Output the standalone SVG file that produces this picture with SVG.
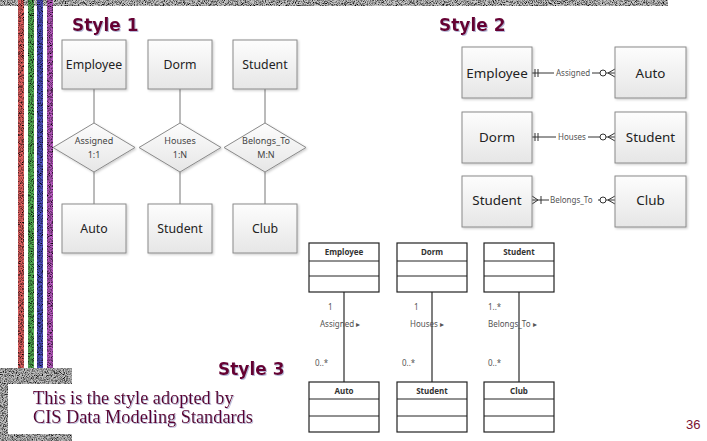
<svg xmlns="http://www.w3.org/2000/svg" width="707" height="441" viewBox="0 0 707 441">
<defs>
  <linearGradient id="boxfill" x1="0" y1="0" x2="0" y2="1">
    <stop offset="0" stop-color="#fdfdfd"/>
    <stop offset="1" stop-color="#e6e6e6"/>
  </linearGradient>
  <filter id="grain" x="0" y="0" width="100%" height="100%" color-interpolation-filters="sRGB">
    <feTurbulence type="fractalNoise" baseFrequency="1.1" numOctaves="2" seed="4" result="n"/>
    <feColorMatrix in="n" type="matrix" values="0.33 0.33 0.33 0 0  0.33 0.33 0.33 0 0  0.33 0.33 0.33 0 0  0 0 0 0 1" result="g"/>
    <feComponentTransfer in="g" result="c">
      <feFuncR type="linear" slope="4" intercept="-1.2"/>
      <feFuncG type="linear" slope="4" intercept="-1.2"/>
      <feFuncB type="linear" slope="4" intercept="-1.2"/>
    </feComponentTransfer>
    <feBlend in="c" in2="SourceGraphic" mode="multiply" result="m"/>
    <feComposite in="m" in2="SourceGraphic" operator="in"/>
  </filter>
  <filter id="shadow" x="-10%" y="-10%" width="130%" height="130%">
    <feDropShadow dx="1.2" dy="1.2" stdDeviation="0.8" flood-color="#000" flood-opacity="0.2"/>
  </filter>
  <filter id="tshadow" x="-5%" y="-20%" width="110%" height="150%">
    <feDropShadow dx="1" dy="1" stdDeviation="0.4" flood-color="#8a8ac0" flood-opacity="0.6"/>
  </filter>
</defs>
<style>
  .ent { fill: url(#boxfill); stroke: #8a8a8a; stroke-width: 1; filter: url(#shadow); }
  .et1 { font-family: "Noto Sans", "Open Sans", sans-serif; font-size: 12.3px; fill: #222; text-anchor: middle; }
  .et2 { font-family: "Noto Sans", "Open Sans", sans-serif; font-size: 13.4px; fill: #222; text-anchor: middle; }
  .dt { font-family: "Noto Sans", "Open Sans", sans-serif; font-size: 9px; fill: #444; text-anchor: middle; }
  .lbl2 { font-family: "Noto Sans", "Open Sans", sans-serif; font-size: 8px; fill: #555; }
  .conn { stroke: #777; stroke-width: 1; fill: none; }
  .conn2 { stroke: #333; stroke-width: 1; fill: none; }
  .cls { fill: #fff; stroke: #222; stroke-width: 1.2; }
  .div { stroke: #222; stroke-width: 1; }
  .ct { font-family: "Noto Sans", "Open Sans", sans-serif; font-size: 8px; font-weight: bold; fill: #333; text-anchor: middle; }
  .ul { font-family: "Noto Sans", "Open Sans", sans-serif; font-size: 8px; fill: #555; }
  .uline { stroke: #555; stroke-width: 1.5; }
  .head { font-family: "DejaVu Sans", Verdana, sans-serif; font-size: 17px; font-weight: bold; fill: #660033; filter: url(#tshadow); }
  .note { font-family: "Liberation Serif", "Times New Roman", serif; font-size: 18.3px; fill: #5a0030; filter: url(#tshadow); }
</style>

<rect width="707" height="441" fill="#ffffff"/>

<!-- decorative frame -->
<g id="decor">
  <rect x="0" y="0" width="668" height="6" fill="#c8c8c8" filter="url(#grain)"/>
  <rect x="18" y="0" width="6" height="370" fill="#e06060" filter="url(#grain)"/>
  <rect x="28" y="0" width="6" height="370" fill="#55b055" filter="url(#grain)"/>
  <rect x="37" y="0" width="6" height="370" fill="#5050c0" filter="url(#grain)"/>
  <rect x="47" y="0" width="6" height="370" fill="#b858c0" filter="url(#grain)"/>
  <polygon points="0,368 72,368 72,384 8,384 8,434 72,434 72,441 0,441" fill="#c0c0c0" filter="url(#grain)"/>
</g>

<!-- headings -->
<text class="head" x="72" y="31">Style 1</text>
<text class="head" x="439" y="31">Style 2</text>
<text class="head" x="218" y="375">Style 3</text>

<text class="note" x="33" y="404">This is the style adopted by</text>
<text class="note" x="33" y="423">CIS Data Modeling Standards</text>
<text x="686" y="429" font-family="Liberation Sans, Arial, sans-serif" font-size="13" fill="#7a1030">36</text>

<!-- connectors -->
<g id="connectors">
  <!-- style 1 -->
  <line class="conn" x1="94" y1="89" x2="94" y2="123"/>
  <line class="conn" x1="94" y1="172" x2="94" y2="204"/>
  <line class="conn" x1="180" y1="89" x2="180" y2="123"/>
  <line class="conn" x1="180" y1="172" x2="180" y2="204"/>
  <line class="conn" x1="265" y1="89" x2="265" y2="123"/>
  <line class="conn" x1="265" y1="172" x2="265" y2="204"/>

  <!-- style 2 row 1 -->
  <path class="conn2" d="M532,73 H554 M592,73 H600 M606,73 H615 M535,69 V77 M538,69 V77 M608,73 L615,69 M608,73 L615,77"/>
  <circle cx="603" cy="73" r="3" fill="#fff" stroke="#333" stroke-width="1"/>
  <text class="lbl2" x="556" y="76">Assigned</text>
  <!-- style 2 row 2 -->
  <path class="conn2" d="M532,137 H556 M588,137 H600 M606,137 H615 M535,133 V141 M538,133 V141 M608,137 L615,133 M608,137 L615,141"/>
  <circle cx="603" cy="137" r="3" fill="#fff" stroke="#333" stroke-width="1"/>
  <text class="lbl2" x="558" y="140">Houses</text>
  <!-- style 2 row 3 -->
  <path class="conn2" d="M532,200 H549 M598,200 H600 M606,200 H615 M532,196 L538,200 L532,204 M541,196 V204 M608,200 L615,196 M608,200 L615,204"/>
  <circle cx="603" cy="200" r="3" fill="#fff" stroke="#333" stroke-width="1"/>
  <text class="lbl2" x="550" y="203">Belongs_To</text>

  <!-- style 3 -->
  <line class="uline" x1="344" y1="292" x2="344" y2="382"/>
  <line class="uline" x1="432" y1="292" x2="432" y2="382"/>
  <line class="uline" x1="519" y1="292" x2="519" y2="382"/>
  <text class="ul" x="328" y="310">1</text>
  <text class="ul" x="320" y="327">Assigned ▸</text>
  <text class="ul" x="315" y="366">0..*</text>
  <text class="ul" x="414" y="310">1</text>
  <text class="ul" x="410" y="327">Houses ▸</text>
  <text class="ul" x="402" y="366">0..*</text>
  <text class="ul" x="488" y="310">1..*</text>
  <text class="ul" x="488" y="327">Belongs_To ▸</text>
  <text class="ul" x="488" y="366">0..*</text>
</g>

<!-- Style 1 nodes -->
<g id="s1-employee"><rect class="ent" x="62" y="40" width="64" height="49"/><text class="et1" x="94" y="69">Employee</text></g>
<g id="s1-dorm"><rect class="ent" x="148" y="40" width="64" height="49"/><text class="et1" x="180" y="69">Dorm</text></g>
<g id="s1-student"><rect class="ent" x="233" y="40" width="64" height="49"/><text class="et1" x="265" y="69">Student</text></g>
<g id="s1-assigned"><polygon class="ent" points="94,123 135,147.5 94,172 53,147.5"/><text class="dt" x="94" y="144">Assigned</text><text class="dt" x="94" y="158">1:1</text></g>
<g id="s1-houses"><polygon class="ent" points="180,123 221,147.5 180,172 139,147.5"/><text class="dt" x="180" y="144">Houses</text><text class="dt" x="180" y="158">1:N</text></g>
<g id="s1-belongs"><polygon class="ent" points="265,123 306,147.5 265,172 224,147.5"/><text class="dt" x="266" y="144">Belongs_To</text><text class="dt" x="266" y="158">M:N</text></g>
<g id="s1-auto"><rect class="ent" x="62" y="204" width="64" height="49"/><text class="et1" x="94" y="233">Auto</text></g>
<g id="s1-student2"><rect class="ent" x="148" y="204" width="64" height="49"/><text class="et1" x="180" y="233">Student</text></g>
<g id="s1-club"><rect class="ent" x="233" y="204" width="64" height="49"/><text class="et1" x="265" y="233">Club</text></g>

<!-- Style 2 nodes -->
<g id="s2-employee"><rect class="ent" x="462" y="47" width="70" height="51"/><text class="et2" x="497" y="78">Employee</text></g>
<g id="s2-auto"><rect class="ent" x="615" y="47" width="71" height="51"/><text class="et2" x="650.5" y="78">Auto</text></g>
<g id="s2-dorm"><rect class="ent" x="462" y="112" width="70" height="51"/><text class="et2" x="497" y="142">Dorm</text></g>
<g id="s2-student"><rect class="ent" x="615" y="112" width="71" height="51"/><text class="et2" x="650.5" y="142">Student</text></g>
<g id="s2-student2"><rect class="ent" x="462" y="176" width="70" height="51"/><text class="et2" x="497" y="205">Student</text></g>
<g id="s2-club"><rect class="ent" x="615" y="176" width="71" height="51"/><text class="et2" x="650.5" y="205">Club</text></g>

<!-- Style 3 nodes -->
<g id="s3-employee"><rect class="cls" x="309" y="243" width="70" height="49"/><line class="div" x1="309" y1="261" x2="379" y2="261"/><line class="div" x1="309" y1="276" x2="379" y2="276"/><text class="ct" x="344" y="255">Employee</text></g>
<g id="s3-dorm"><rect class="cls" x="397" y="243" width="70" height="49"/><line class="div" x1="397" y1="261" x2="467" y2="261"/><line class="div" x1="397" y1="276" x2="467" y2="276"/><text class="ct" x="432" y="255">Dorm</text></g>
<g id="s3-student"><rect class="cls" x="484" y="243" width="70" height="49"/><line class="div" x1="484" y1="261" x2="554" y2="261"/><line class="div" x1="484" y1="276" x2="554" y2="276"/><text class="ct" x="519" y="255">Student</text></g>
<g id="s3-auto"><rect class="cls" x="309" y="382" width="70" height="50"/><line class="div" x1="309" y1="399" x2="379" y2="399"/><line class="div" x1="309" y1="416" x2="379" y2="416"/><text class="ct" x="344" y="394">Auto</text></g>
<g id="s3-student2"><rect class="cls" x="397" y="382" width="70" height="50"/><line class="div" x1="397" y1="399" x2="467" y2="399"/><line class="div" x1="397" y1="416" x2="467" y2="416"/><text class="ct" x="432" y="394">Student</text></g>
<g id="s3-club"><rect class="cls" x="484" y="382" width="70" height="50"/><line class="div" x1="484" y1="399" x2="554" y2="399"/><line class="div" x1="484" y1="416" x2="554" y2="416"/><text class="ct" x="519" y="394">Club</text></g>
</svg>
